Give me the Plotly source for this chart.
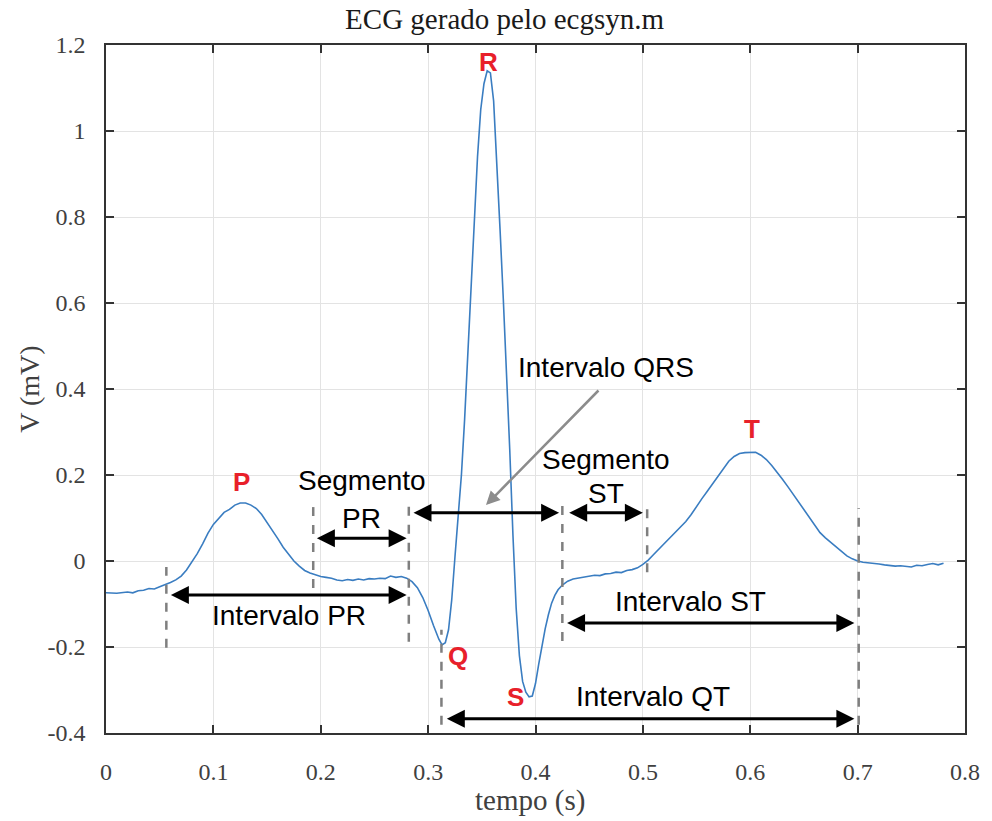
import plotly.graph_objects as go

# ---------------- data ----------------
time_s = [0.000, 0.010, 0.020, 0.025, 0.030, 0.035, 0.040, 0.045, 0.050, 0.056,
          0.060, 0.065, 0.070, 0.075, 0.080, 0.085, 0.090, 0.095, 0.100, 0.105,
          0.110, 0.115, 0.120, 0.125, 0.130, 0.135, 0.140, 0.145, 0.150, 0.155,
          0.160, 0.165, 0.170, 0.175, 0.180, 0.185, 0.190, 0.195, 0.200, 0.205,
          0.210, 0.215, 0.220, 0.225, 0.230, 0.235, 0.240, 0.245, 0.250, 0.255,
          0.260, 0.265, 0.270, 0.275, 0.280, 0.285, 0.290, 0.295, 0.300, 0.305,
          0.310, 0.313, 0.316, 0.319, 0.322, 0.325, 0.328, 0.331, 0.334, 0.337,
          0.340, 0.343, 0.346, 0.349, 0.352, 0.355, 0.358, 0.361, 0.364, 0.367,
          0.370, 0.373, 0.376, 0.379, 0.382, 0.385, 0.388, 0.391, 0.394, 0.397,
          0.400, 0.403, 0.406, 0.409, 0.412, 0.415, 0.418, 0.421, 0.425, 0.430,
          0.435, 0.440, 0.445, 0.450, 0.455, 0.460, 0.465, 0.470, 0.475, 0.480,
          0.485, 0.490, 0.495, 0.500, 0.505, 0.510, 0.515, 0.520, 0.525, 0.530,
          0.535, 0.540, 0.545, 0.550, 0.555, 0.560, 0.565, 0.570, 0.575, 0.580,
          0.585, 0.590, 0.595, 0.600, 0.605, 0.610, 0.615, 0.620, 0.625, 0.630,
          0.635, 0.640, 0.645, 0.650, 0.655, 0.660, 0.665, 0.670, 0.675, 0.680,
          0.685, 0.690, 0.695, 0.700, 0.705, 0.710, 0.715, 0.720, 0.725, 0.730,
          0.735, 0.740, 0.745, 0.750, 0.755, 0.760, 0.765, 0.770, 0.775, 0.780]
voltage_mv = [-0.074, -0.075, -0.072, -0.074, -0.069, -0.068, -0.064, -0.065, -0.060, -0.055,
              -0.050, -0.044, -0.035, -0.021, -0.003, 0.017, 0.040, 0.065, 0.085, 0.100,
              0.113, 0.120, 0.130, 0.135, 0.135, 0.130, 0.122, 0.108, 0.090, 0.072,
              0.052, 0.032, 0.015, 0.000, -0.012, -0.022, -0.028, -0.032, -0.036, -0.038,
              -0.040, -0.044, -0.046, -0.043, -0.045, -0.042, -0.044, -0.041, -0.042, -0.040,
              -0.041, -0.035, -0.038, -0.036, -0.040, -0.048, -0.062, -0.085, -0.115, -0.150,
              -0.182, -0.195, -0.190, -0.160, -0.090, 0.010, 0.100, 0.200, 0.330, 0.480,
              0.640, 0.790, 0.940, 1.050, 1.110, 1.140, 1.135, 1.070, 0.930, 0.770,
              0.610, 0.450, 0.260, 0.060, -0.110, -0.220, -0.280, -0.305, -0.316, -0.314,
              -0.285, -0.240, -0.195, -0.158, -0.125, -0.098, -0.080, -0.067, -0.056, -0.047,
              -0.042, -0.040, -0.037, -0.036, -0.033, -0.034, -0.030, -0.029, -0.026, -0.027,
              -0.022, -0.020, -0.016, -0.008, 0.002, 0.015, 0.028, 0.042, 0.055, 0.068,
              0.080, 0.092, 0.108, 0.128, 0.145, 0.162, 0.180, 0.198, 0.215, 0.232,
              0.243, 0.250, 0.252, 0.253, 0.253, 0.246, 0.236, 0.222, 0.207, 0.190,
              0.173, 0.155, 0.135, 0.118, 0.100, 0.082, 0.066, 0.054, 0.044, 0.034,
              0.022, 0.012, 0.005, 0.000, -0.003, -0.004, -0.006, -0.007, -0.009, -0.010,
              -0.012, -0.011, -0.013, -0.014, -0.010, -0.011, -0.008, -0.006, -0.009, -0.005]

x_ticks = [0, 0.1, 0.2, 0.3, 0.4, 0.5, 0.6, 0.7, 0.8]
x_tick_labels = ["0", "0.1", "0.2", "0.3", "0.4", "0.5", "0.6", "0.7", "0.8"]
y_ticks = [-0.4, -0.2, 0, 0.2, 0.4, 0.6, 0.8, 1.0, 1.2]
y_tick_labels = ["-0.4", "-0.2", "0", "0.2", "0.4", "0.6", "0.8", "1", "1.2"]

# dashed markers: x, y_top, y_bottom
marker_x = [0.0562, 0.193, 0.282, 0.3124, 0.425, 0.504, 0.701]
marker_top = [-0.014, 0.135, 0.135, -0.160, 0.137, 0.137, 0.123]
marker_bottom = [-0.202, -0.063, -0.188, -0.381, -0.186, -0.026, -0.381]

# double arrows: start x, end x, y
arrow_x0 = [0.195, 0.059, 0.285, 0.430, 0.428, 0.316]
arrow_x1 = [0.280, 0.280, 0.422, 0.500, 0.697, 0.697]
arrow_y = [0.053, -0.079, 0.112, 0.112, -0.144, -0.367]

# black labels
label_text = ["Segmento", "PR", "Intervalo PR", "Segmento", "ST",
              "Intervalo ST", "Intervalo QT", "Intervalo QRS"]
label_x = [0.238, 0.238, 0.170, 0.466, 0.466, 0.544, 0.509, 0.466]
label_y = [0.188, 0.100, -0.126, 0.237, 0.156, -0.095, -0.316, 0.451]

# red wave labels
wave_text = ["P", "Q", "R", "S", "T"]
wave_x = [0.126, 0.328, 0.356, 0.381, 0.602]
wave_y = [0.184, -0.221, 1.161, -0.317, 0.307]

# QRS pointer (tail -> head)
pointer_tail = (0.4600, 0.400)
pointer_head = (0.3539, 0.130)

SERIF = "Liberation Serif, Times New Roman, serif"
SANS = "Liberation Sans, Arial, sans-serif"

fig = go.Figure()
fig.add_trace(go.Scatter(x=time_s, y=voltage_mv, mode="lines",
                         line=dict(color="#3a7dc1", width=1.6),
                         showlegend=False, hoverinfo="skip"))

for xm, yt, yb in zip(marker_x, marker_top, marker_bottom):
    fig.add_shape(type="line", xref="x", yref="y", x0=xm, x1=xm, y0=yb, y1=yt,
                  line=dict(color="#7f7f7f", width=2.5, dash="dash"))

annotations = []
for a0, a1, ay in zip(arrow_x0, arrow_x1, arrow_y):
    annotations.append(dict(x=a1, y=ay, ax=a0, ay=ay, xref="x", yref="y",
                            axref="x", ayref="y", text="", showarrow=True,
                            arrowhead=2, startarrowhead=2, arrowside="end+start",
                            arrowsize=1.2, startarrowsize=1.2, arrowwidth=3,
                            arrowcolor="black", standoff=0, startstandoff=0))

annotations.append(dict(x=pointer_head[0], y=pointer_head[1],
                        ax=pointer_tail[0], ay=pointer_tail[1],
                        xref="x", yref="y", axref="x", ayref="y", text="",
                        showarrow=True, arrowhead=2, arrowsize=1.1, arrowwidth=2.5,
                        arrowcolor="#8c8c8c", standoff=0))

for t, lx, ly in zip(label_text, label_x, label_y):
    annotations.append(dict(x=lx, y=ly, xref="x", yref="y", text=t, showarrow=False,
                            font=dict(family=SANS, size=28, color="black"),
                            xanchor="center", yanchor="middle"))

for t, lx, ly in zip(wave_text, wave_x, wave_y):
    annotations.append(dict(x=lx, y=ly, xref="x", yref="y", text="<b>" + t + "</b>",
                            showarrow=False,
                            font=dict(family=SANS, size=26, color="#e8202a"),
                            xanchor="center", yanchor="middle"))

# axis titles
annotations.append(dict(x=0.494, y=-0.0974, xref="paper", yref="paper", text="tempo (s)",
                        showarrow=False, font=dict(family=SERIF, size=29, color="#404040"),
                        xanchor="center", yanchor="middle"))
annotations.append(dict(x=-0.0899, y=0.5, xref="paper", yref="paper", text="V (mV)",
                        showarrow=False, textangle=-90,
                        font=dict(family=SERIF, size=28, color="#404040"),
                        xanchor="center", yanchor="middle"))

axis_common = dict(showline=True, linecolor="#333333", linewidth=1.5, mirror="ticks",
                   ticks="inside", ticklen=8, tickwidth=1.5, tickcolor="#333333",
                   showgrid=True, gridcolor="#e3e3e3", gridwidth=1, zeroline=False,
                   tickfont=dict(family=SERIF, size=24, color="#404040"))

fig.update_layout(
    width=992, height=821,
    margin=dict(l=106, r=18, t=45, b=88),
    paper_bgcolor="white", plot_bgcolor="white",
    title=dict(text="ECG gerado pelo ecgsyn.m", x=0.464, xref="paper",
               y=1 - 19 / 821, yref="container", xanchor="center", yanchor="middle",
               font=dict(family=SERIF, size=29, color="#1a1a1a")),
    xaxis=dict(range=[0, 0.8], tickvals=x_ticks, ticktext=x_tick_labels,
               ticklabelstandoff=16, **axis_common),
    yaxis=dict(range=[-0.4, 1.2], tickvals=y_ticks, ticktext=y_tick_labels,
               ticklabelstandoff=14, **axis_common),
    annotations=annotations,
    showlegend=False,
)

fig.write_html("out.html")
